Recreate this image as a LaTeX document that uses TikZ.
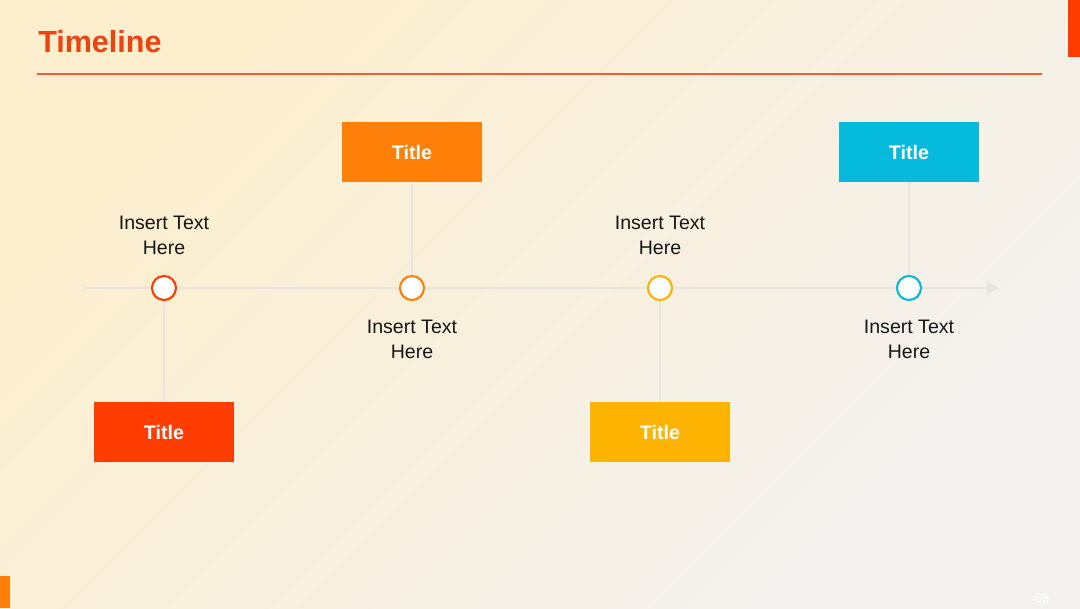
\documentclass[tikz,border=0pt]{standalone}
\usepackage{fontspec}
\setmainfont{Liberation Sans}
\usetikzlibrary{positioning, arrows.meta}
\definecolor{titleRed}{RGB}{240, 66, 14}
\definecolor{markRed}{RGB}{255, 61, 0}
\definecolor{markOrange}{RGB}{255, 128, 8}
\definecolor{markAmber}{RGB}{253, 179, 2}
\definecolor{markCyan}{RGB}{5, 186, 220}
\definecolor{bgWarm}{RGB}{253, 238, 205}
\definecolor{bgCool}{RGB}{243, 242, 240}
\definecolor{axisGrey}{RGB}{232, 229, 225}
\definecolor{textDark}{RGB}{22, 22, 22}
\tikzset{
    event_dot/.style={
        circle,
        line width=1.5pt,
        fill=white,
        minimum size=0.6cm,
        inner sep=0pt
    },
    title_box/.style={
        rectangle,
        minimum width=3.5cm,
        minimum height=1.5cm,
        inner sep=0pt,
        text=white,
        font=\fontsize{14}{16}\selectfont\bfseries
    },
    event_text/.style={
        align=center,
        text=textDark,
        font=\fontsize{13.9}{17.8}\selectfont
    },
    stem/.style={
        draw=axisGrey,
        line width=0.8pt
    },
    time_axis/.style={
        draw=axisGrey,
        line width=2pt,
        -{Triangle[length=9pt, width=10pt]}
    }
}

\begin{document}
\begin{tikzpicture}[x=0.025cm, y=-0.025cm]
    \useasboundingbox (0,0) rectangle (1080,608);
    \shade[top color=bgWarm, bottom color=bgCool, shading angle=45] (0,0) rectangle (1080,608);

    % heading and frame marks
    \node[anchor=base west, inner sep=0pt, text=titleRed,
          font=\fontsize{21.7}{24}\selectfont\bfseries] (heading) at (38,52) {Timeline};
    \coordinate (rule_l) at (37,74);
    \coordinate (rule_r) at (1042,74);
    \draw[titleRed!85, line width=0.8pt] (rule_l) -- (rule_r);
    \fill[markRed] (1068,0) rectangle (1080,57);
    \fill[markOrange] (0,576) rectangle (10,608);
    \node[text=white, font=\fontsize{9}{10}\selectfont] (page_no) at (1042,598) {65};

    % axis
    \coordinate (axis_start) at (82,288);
    \coordinate (axis_end) at (999,288);
    \draw[time_axis] (axis_start) -- (axis_end);

    % events
    \node[event_dot, draw=markRed] (d1) at (164,288) {};
    \node[event_dot, draw=markOrange] (d2) at (412,288) {};
    \node[event_dot, draw=markAmber] (d3) at (660,288) {};
    \node[event_dot, draw=markCyan] (d4) at (909,288) {};

    \node[title_box, fill=markRed] (b1) at (164,432) {Title};
    \node[title_box, fill=markOrange] (b2) at (412,152) {Title};
    \node[title_box, fill=markAmber] (b3) at (660,432) {Title};
    \node[title_box, fill=markCyan] (b4) at (909,152) {Title};

    \node[event_text] (t1) at (164,235) {Insert Text\\Here};
    \node[event_text] (t2) at (412,339) {Insert Text\\Here};
    \node[event_text] (t3) at (660,235) {Insert Text\\Here};
    \node[event_text] (t4) at (909,339) {Insert Text\\Here};

    \draw[stem] (d1.south) -- (b1.north);
    \draw[stem] (b2.south) -- (d2.north);
    \draw[stem] (d3.south) -- (b3.north);
    \draw[stem] (b4.south) -- (d4.north);
\end{tikzpicture}
\end{document}
